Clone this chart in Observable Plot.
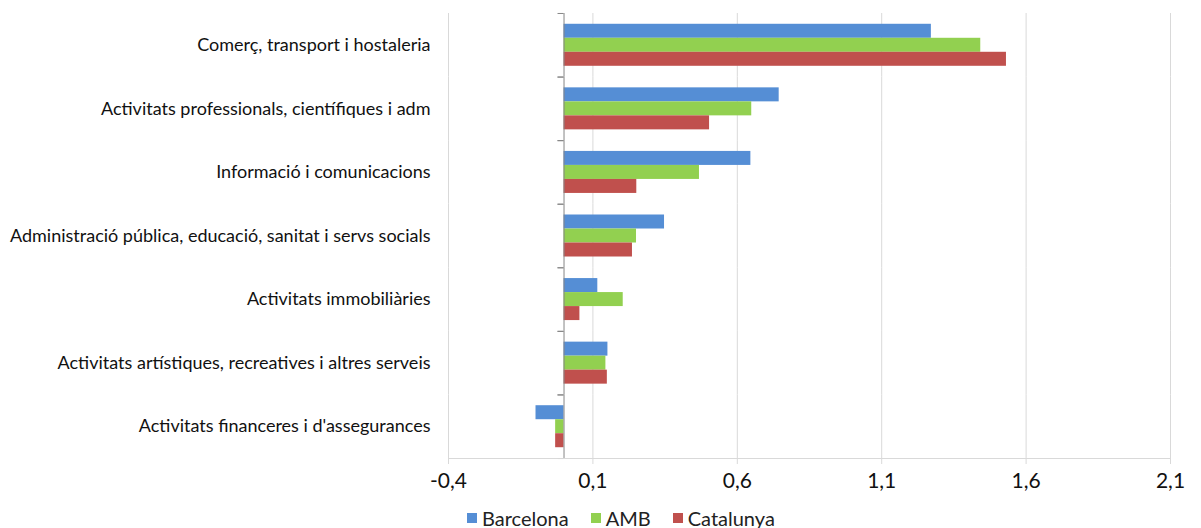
<!DOCTYPE html>
<html>
<head>
<meta charset="utf-8">
<script src="https://cdn.jsdelivr.net/npm/d3@7"></script>
<script src="https://cdn.jsdelivr.net/npm/@observablehq/plot@0.6"></script>
<style>
  body { margin: 0; background: #fff; font-family: Lato, "Open Sans", sans-serif; }
  #wrap { position: relative; width: 1201px; height: 528px; }
  #legend { position: absolute; left: 467px; top: 506px; display: flex; font-size: 20px; color: #222; font-family: Lato, sans-serif; }
  #legend .item { display: flex; align-items: center; margin-right: 22px; }
  #legend .sw { width: 10px; height: 10px; margin-right: 5px; }
</style>
</head>
<body>
<div id="wrap"><div id="chart"></div><div id="legend"></div></div>
<script>
const categories = [
  "Comerç, transport i hostaleria",
  "Activitats professionals, científiques i adm",
  "Informació i comunicacions",
  "Administració pública, educació, sanitat i servs socials",
  "Activitats immobiliàries",
  "Activitats artístiques, recreatives i altres serveis",
  "Activitats financeres i d'assegurances"
];
const seriesNames = ["Barcelona", "AMB", "Catalunya"];
const seriesColors = ["#558ed5", "#92d050", "#c0504d"];
const barcelona = [1.272, 0.745, 0.647, 0.348, 0.117, 0.152, -0.097];
const amb       = [1.443, 0.650, 0.469, 0.251, 0.205, 0.145, -0.029];
const catalunya = [1.532, 0.504, 0.252, 0.237, 0.055, 0.150, -0.029];
const xTicks = [-0.4, 0.1, 0.6, 1.1, 1.6, 2.1];

const seriesValues = [barcelona, amb, catalunya];
const rows = [];
categories.forEach((c, i) => {
  seriesNames.forEach((s, j) => rows.push({category: c, series: s, value: seriesValues[j][i]}));
});
const fmt = d => d3.format(".1f")(d).replace(".", ",").replace("−", "-");

let chart;
try {
chart = Plot.plot({
  width: 1201,
  height: 507,
  marginLeft: 448,
  marginRight: 31,
  marginTop: 13,
  marginBottom: 49,
  style: {fontFamily: "Lato, sans-serif", background: "white"},
  x: {domain: [-0.4, 2.1], axis: null},
  y: {domain: seriesNames, axis: null, paddingInner: 0, paddingOuter: 0.77, round: false},
  fy: {domain: categories, padding: 0, label: null, axis: null, round: false},
  color: {domain: seriesNames, range: seriesColors},
  marks: [
    Plot.ruleX(xTicks, {stroke: "#d9d9d9", strokeWidth: 1}),
    Plot.axisFy({anchor: "left", tickSize: 0, tickPadding: 18, fontSize: 18, fill: "#111", label: null}),
    Plot.barX(rows, {fy: "category", y: "series", x: "value", fill: "series"}),
    Plot.ruleX([0], {stroke: "#868686", strokeWidth: 1}),
    Plot.ruleY([seriesNames[0]], {y: d => d, x1: 0, x2: 0, insetLeft: -6, dy: -17.8, stroke: "#868686"}),
    Plot.ruleY([seriesNames[2]], {y: d => d, x1: 0, x2: 0, insetLeft: -6, dy: 17.8, stroke: "#868686"}),
    Plot.axisX({anchor: "bottom", facetAnchor: "bottom", ticks: xTicks, tickFormat: fmt, tickSize: 6, tickPadding: 9, fontSize: 21, stroke: "#d9d9d9", fill: "#111", label: null}),
    Plot.ruleY([seriesNames[2]], {y: d => d, x1: -0.4, x2: 2.1, dy: 17.8, stroke: "#d9d9d9", fy: () => categories[categories.length - 1]})
  ]
});
} catch (e) { document.body.insertAdjacentHTML("beforeend", "<pre>" + e.stack + "</pre>"); }
if (chart) document.getElementById("chart").appendChild(chart);

const legend = document.getElementById("legend");
seriesNames.forEach((s, i) => {
  const it = document.createElement("div");
  it.className = "item";
  it.innerHTML = `<span class="sw" style="background:${seriesColors[i]}"></span><span>${s}</span>`;
  legend.appendChild(it);
});
</script>
</body>
</html>
